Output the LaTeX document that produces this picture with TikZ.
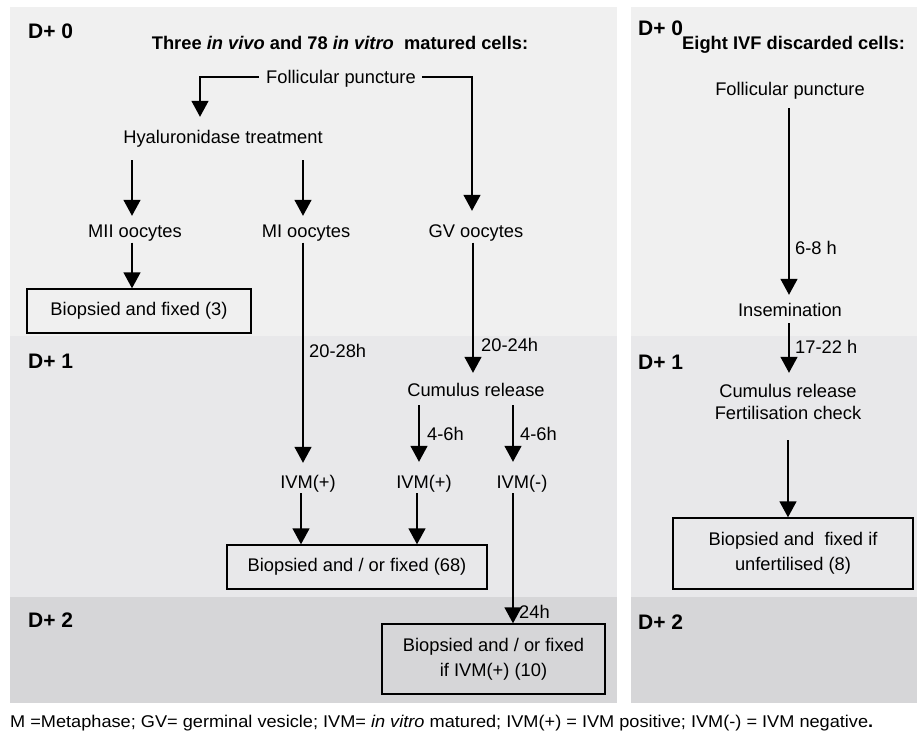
\documentclass[tikz,border=0pt]{standalone}
\usepackage{fontspec}
\setmainfont{Liberation Sans}
\usetikzlibrary{arrows.meta,calc}
\definecolor{dzero}{HTML}{F0F0F0}
\definecolor{done}{HTML}{E8E8EA}
\definecolor{dtwo}{HTML}{D6D6D8}
\begin{document}
\begin{tikzpicture}[x=1pt,y=-1pt,
  txt/.style={inner sep=0pt,text height=13pt,text depth=0pt,font=\fontsize{18.3}{22}\selectfont},
  lab/.style={txt,anchor=west},
  ttl/.style={inner sep=0pt,text height=13pt,text depth=0pt,font=\fontsize{18.3}{22}\selectfont\bfseries},
  dlab/.style={anchor=west,inner sep=0pt,text height=15pt,text depth=0pt,font=\fontsize{21}{25}\selectfont\bfseries},
  boxn/.style={draw,line width=1.4pt,inner sep=0pt,align=center,font=\fontsize{18.3}{25}\selectfont},
  arr/.style={line width=1.5pt,-{Triangle[length=16pt,width=17pt]}}]
\fill[white] (0,0) rectangle (918,738);
\useasboundingbox (0,0) rectangle (918,738);
% panels
\fill[dzero] (10,7) rectangle (617,336);
\fill[done] (10,336) rectangle (617,597);
\fill[dtwo] (10,597) rectangle (617,703);
\fill[dzero] (631,7) rectangle (917,336);
\fill[done] (631,336) rectangle (917,597);
\fill[dtwo] (631,597) rectangle (917,703);
% day labels
\node[dlab] (d0l) at (28,31) {D+ 0};
\node[dlab] (d1l) at (28,361) {D+ 1};
\node[dlab] (d2l) at (28,620) {D+ 2};
\node[dlab] (d0r) at (638,28) {D+ 0};
\node[dlab] (d1r) at (638,362) {D+ 1};
\node[dlab] (d2r) at (638,622) {D+ 2};
% titles
\node[ttl] (tl) at (340,43) {Three \textit{in vivo} and 78 \textit{in vitro}\ \ matured cells:};
\node[ttl,anchor=west] (tr) at (682,43) {Eight IVF discarded cells:};
% left flow
\node[txt] (fp) at (341,77) {Follicular puncture};
\node[txt] (hy) at (223,137) {Hyaluronidase treatment};
\node[txt] (mii) at (135,231) {MII oocytes};
\node[txt] (mi) at (306,231) {MI oocytes};
\node[txt] (gv) at (476,231) {GV oocytes};
\node[boxn,minimum width=224pt,minimum height=44pt] (b3) at (139,311) {Biopsied and fixed (3)};
\node[txt] (cum) at (476,390) {Cumulus release};
\node[txt] (ivm1) at (308,482) {IVM(+)};
\node[txt] (ivm2) at (424,482) {IVM(+)};
\node[txt] (ivmm) at (522,482) {IVM(-)};
\node[boxn,minimum width=260pt,minimum height=44pt] (b68) at (357,567) {Biopsied and / or fixed (68)};
\node[boxn,minimum width=223pt,minimum height=70pt] (b10) at (493.5,659) {Biopsied and / or fixed\\if IVM(+) (10)};
\node[lab] (l2028) at (309,351) {20-28h};
\node[lab] (l2024) at (481,345) {20-24h};
\node[lab] (l46a) at (427,434) {4-6h};
\node[lab] (l46b) at (520,434) {4-6h};
\node[lab] (l24) at (519,612) {24h};
% right flow
\node[txt] (rfp) at (790,89) {Follicular puncture};
\node[txt] (ins) at (790,310) {Insemination};
\node[txt] (crf1) at (788,391) {Cumulus release};
\node[txt] (crf2) at (788,413) {Fertilisation check};
\node[boxn,minimum width=240pt,minimum height=71pt] (b8) at (793,553.5) {Biopsied and\ \ fixed if\\unfertilised (8)};
\node[lab] (l68) at (795,248) {6-8 h};
\node[lab] (l1722) at (795,347) {17-22 h};
% left connectors
\draw[arr] ($(fp.west)+(-7,0)$) -| ($(hy.north)+(-23,-13.5)$);
\draw[arr] ($(fp.east)+(6,0)$) -| ($(gv.north)+(-4,-13.5)$);
\draw[arr] ($(hy.south -| mii.north)+(-3,16.5)$) -- ($(mii.north)+(-3,-8.5)$);
\draw[arr] ($(hy.south -| mi.north)+(-3,16.5)$) -- ($(mi.north)+(-3,-8.5)$);
\draw[arr] ($(mii.south)+(-3,5)$) -- ($(b3.north -| mii.south)+(-3,0)$);
\draw[arr] ($(mi.south)+(-3,5)$) -- ($(ivm1.north -| mi.south)+(-3,-12.5)$);
\draw[arr] ($(gv.south)+(-3,5)$) -- ($(cum.north)+(-3,-10.5)$);
\draw[arr] ($(cum.south -| ivm2.north)+(-5,8.5)$) -- ($(ivm2.north)+(-5,-13.5)$);
\draw[arr] ($(cum.south -| ivmm.north)+(-9,8.5)$) -- ($(ivmm.north)+(-9,-13.5)$);
\draw[arr] ($(ivm1.south)+(-7,4.5)$) -- ($(b68.north -| ivm1.south)+(-7,0)$);
\draw[arr] ($(ivm2.south)+(-7,4.5)$) -- ($(b68.north -| ivm2.south)+(-7,0)$);
\draw[arr] ($(ivmm.south)+(-9,4.5)$) -- ($(b10.north -| ivmm.south)+(-9,0)$);
% right connectors
\draw[arr] ($(rfp.south)+(-1,12.5)$) -- ($(ins.north)+(-1,-8.5)$);
\draw[arr] ($(ins.south)+(-1,6.5)$) -- ($(crf1.north)+(1,-11.5)$);
\draw[arr] ($(crf2.south)+(0,20.5)$) -- (b8.north -| crf2.south);
% footnote
\node[anchor=west,inner sep=0pt] (fn) at (10,723) {\resizebox{863pt}{\height}{\fontsize{17}{20}\selectfont M =Metaphase; GV= germinal vesicle; IVM= \textit{in vitro} matured; IVM(+) = IVM positive; IVM(-) = IVM negative\textbf{.}}};
\end{tikzpicture}
\end{document}
